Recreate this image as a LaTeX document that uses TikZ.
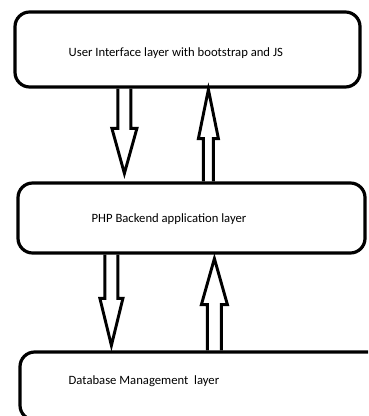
\documentclass[tikz,border=0pt]{standalone}
\usepackage{fontspec}
\setmainfont{Carlito}
\usetikzlibrary{calc,positioning}

\tikzset{
  layer/.style={draw, line width=2.4pt, rounded corners=11pt, inner sep=0pt},
  lbl/.style={font=\fontsize{9.5}{11}\selectfont, inner sep=0pt},
  arrline/.style={line width=2.2pt, line join=miter}
}

% hollow block arrow: from, to, shaft half width, head half width, head length (px)
\newcommand\hollowarr[5]{%
  \draw[arrline] let \p1=#1, \p2=#2, \n1={sign(\y2-\y1)} in
    (\x1-#3*0.75pt, \y1) -- (\x1-#3*0.75pt, \y2-\n1*#5*0.75pt)
    -- (\x1-#4*0.75pt, \y2-\n1*#5*0.75pt) -- (\x2, \y2)
    -- (\x1+#4*0.75pt, \y2-\n1*#5*0.75pt) -- (\x1+#3*0.75pt, \y2-\n1*#5*0.75pt)
    -- (\x1+#3*0.75pt, \y1);
}

\begin{document}
\begin{tikzpicture}[x=0.75pt, y=-0.75pt]
  \useasboundingbox (0,0) rectangle (368,416);
  \clip (0,0) rectangle (368,416);

  % boxes
  \node[layer, minimum width=345*0.75pt, minimum height=75*0.75pt] (ui) at (187.5,49.5) {};
  \node[layer, minimum width=347*0.75pt, minimum height=70*0.75pt] (php) at (191.5,218) {};
  \node[layer, minimum width=380*0.75pt, minimum height=68*0.75pt] (db) at (210,386) {};

  % labels
  \node[lbl, anchor=west] (uitxt) at ($(ui.west)+(55,3.5)$) {User Interface layer with bootstrap and JS};
  \node[lbl, anchor=west] (phptxt) at ($(php.west)+(75,1)$) {PHP Backend application layer};
  \node[lbl, anchor=west] (dbtxt) at ($(db.north west)+(50,31)$) {Database Management\ \ layer};

  % arrows
  \hollowarr{($(ui.south west)+(111,0)$)}{($(php.north west)+(108,-8)$)}{6.5}{12.5}{45}
  \hollowarr{($(php.north west)+(192,0)$)}{($(ui.south west)+(195,1)$)}{5}{10}{49}
  \hollowarr{($(php.south west)+(95,0)$)}{($(db.north west)+(93,-5)$)}{6.5}{11.5}{47}
  \hollowarr{($(db.north west)+(196,0)$)}{($(php.south west)+(198,4)$)}{7}{13}{46}

\end{tikzpicture}
\end{document}
